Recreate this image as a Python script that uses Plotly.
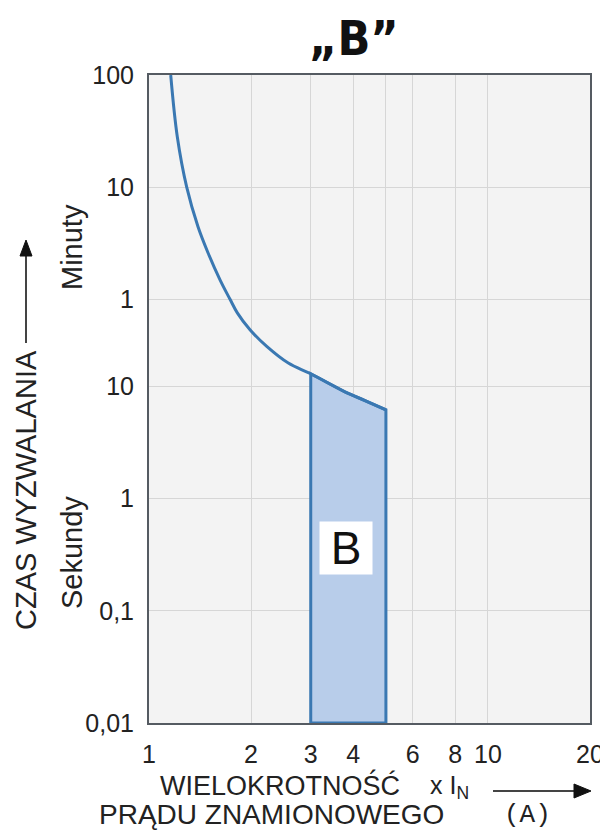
import plotly.graph_objects as go

# ---- data ----
curve_x = [1.159, 1.212, 1.292, 1.395, 1.493, 1.62, 1.734, 1.822, 1.986, 2.225, 2.576, 3.0, 3.785, 4.34, 5.0]
curve_t = [6000, 1687, 600, 266, 156, 89.5, 60, 45.4, 32.1, 22.8, 16.2, 13.0, 8.97, 7.5, 6.2]

band_x = [3.0, 3.0, 3.785, 4.34, 5.0, 5.0, 3.0]
band_t = [0.01, 13.0, 8.97, 7.5, 6.2, 0.01, 0.01]

x_tickvals = [1, 2, 3, 4, 5, 6, 8, 10, 20]
x_ticktext = ["1", "2", "3", "4", "", "6", "8", "10", "20"]

y_tickvals = [0.01, 0.1, 1, 10, 60, 600, 6000]
y_ticktext = ["0,01", "0,1", "1", "10", "1", "10", "100"]

LINE = "#3a78b2"
FILL = "#b8cdea"
FONT = "Liberation Sans, Arial, sans-serif"
TXT = "#222"

fig = go.Figure()
fig.add_trace(go.Scatter(x=band_x, y=band_t, mode="lines", fill="toself",
                         fillcolor=FILL, line=dict(color=LINE, width=3),
                         hoverinfo="skip", showlegend=False))
fig.add_trace(go.Scatter(x=curve_x, y=curve_t, mode="lines", line_shape="spline",
                         line=dict(color=LINE, width=3, smoothing=1.0), showlegend=False))

# page body has an 8px margin, so the figure is offset by 8px; keep it inside the window
fig.update_layout(
    width=600, height=823,
    margin=dict(l=141, r=18, t=67, b=108, autoexpand=False),
    paper_bgcolor="white", plot_bgcolor="#f3f3f3",
    font=dict(family=FONT, color=TXT),
    showlegend=False,
)
fig.update_xaxes(type="log", range=[0, 1.30103], tickvals=x_tickvals, ticktext=x_ticktext,
                 showgrid=True, gridcolor="#d6d6d6", gridwidth=1, automargin=False,
                 showline=True, linecolor="#555b62", linewidth=2, mirror=True,
                 ticks="", ticklabelstandoff=8, tickfont=dict(size=25, color=TXT),
                 ticklabeloverflow="allow", zeroline=False)
fig.update_yaxes(type="log", range=[-2, 3.7782], tickvals=y_tickvals, ticktext=y_ticktext,
                 showgrid=True, gridcolor="#d6d6d6", gridwidth=1, automargin=False,
                 showline=True, linecolor="#555b62", linewidth=2, mirror=True,
                 ticks="", ticklabelstandoff=8, tickfont=dict(size=25, color=TXT),
                 ticklabeloverflow="allow", zeroline=False)


def px(xp):
    return (xp - 149) / 441.0


def py(yp):
    return (723 - yp) / 648.0


ann = []
# label box "B"
ann.append(dict(xref="paper", yref="paper", x=px(346), y=py(548), text="B", showarrow=False,
                font=dict(size=46, color="#111", family=FONT), bgcolor="white",
                width=52, height=52, borderpad=0, xanchor="center", yanchor="middle"))
# title
ann.append(dict(xref="paper", yref="paper", x=px(354), y=py(38), text="„B”", showarrow=False,
                font=dict(size=48, color="#111",
                          family="DejaVu Sans Condensed, Liberation Sans Narrow, Arial Narrow, Liberation Sans, sans-serif",
                          weight="bold"),
                xanchor="center", yanchor="middle"))
# y labels
ann.append(dict(xref="paper", yref="paper", x=px(72), y=py(247), text="Minuty", textangle=-90,
                showarrow=False, font=dict(size=29, color=TXT), xanchor="center", yanchor="middle"))
ann.append(dict(xref="paper", yref="paper", x=px(72), y=py(553), text="Sekundy", textangle=-90,
                showarrow=False, font=dict(size=29, color=TXT), xanchor="center", yanchor="middle"))
ann.append(dict(xref="paper", yref="paper", x=px(26), y=py(490), text="CZAS WYZWALANIA", textangle=-90,
                showarrow=False, font=dict(size=29, color=TXT), xanchor="center", yanchor="middle"))
# x labels
ann.append(dict(xref="paper", yref="paper", x=px(280), y=py(785), text="WIELOKROTNOŚĆ",
                showarrow=False, font=dict(size=27, color=TXT), xanchor="center", yanchor="middle"))
ann.append(dict(xref="paper", yref="paper", x=px(449), y=py(787), text="x I<sub>N</sub>",
                showarrow=False, font=dict(size=25, color=TXT), xanchor="center", yanchor="middle"))
ann.append(dict(xref="paper", yref="paper", x=px(271), y=py(814), text="PRĄDU ZNAMIONOWEGO",
                showarrow=False, font=dict(size=28, color=TXT), xanchor="center", yanchor="middle"))
ann.append(dict(xref="paper", yref="paper", x=px(527), y=py(815), text="(A)",
                showarrow=False, font=dict(size=26, color=TXT, family="Liberation Mono, DejaVu Sans Mono, monospace"),
                xanchor="center", yanchor="middle"))
fig.update_layout(annotations=ann)

# arrows drawn as shapes (shaft + head)
shapes = []
shapes.append(dict(type="line", xref="paper", yref="paper", x0=px(26), x1=px(26), y0=py(343), y1=py(254),
                   line=dict(color="#444", width=2)))
shapes.append(dict(type="path", xref="paper", yref="paper",
                   path=f"M {px(26)} {py(240)} L {px(20)} {py(256)} L {px(32)} {py(256)} Z",
                   fillcolor="#111", line=dict(color="#111", width=1)))
shapes.append(dict(type="line", xref="paper", yref="paper", x0=px(493), x1=px(576), y0=py(791), y1=py(791),
                   line=dict(color="#444", width=2)))
shapes.append(dict(type="path", xref="paper", yref="paper",
                   path=f"M {px(591)} {py(791)} L {px(574)} {py(784)} L {px(574)} {py(798)} Z",
                   fillcolor="#111", line=dict(color="#111", width=1)))
fig.update_layout(shapes=shapes)

fig.write_html("out.html")
